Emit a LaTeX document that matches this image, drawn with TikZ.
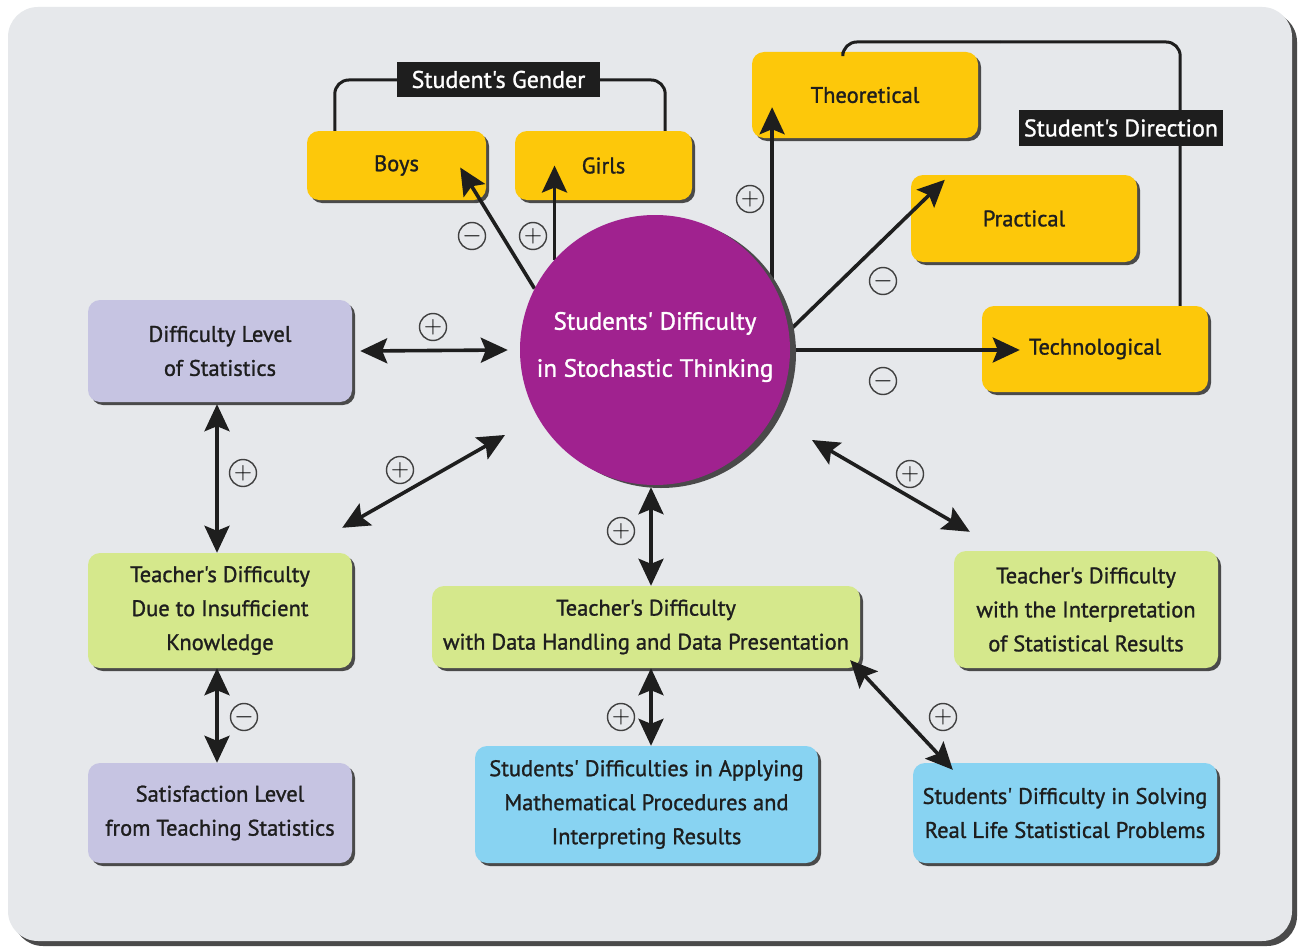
\documentclass[tikz,border=0pt]{standalone}
\usepackage{fontspec}
\setmainfont{PT Sans}[Ligatures=TeXOff, FakeBold=1.2]
\usetikzlibrary{shadows,arrows.meta,calc}
\definecolor{bgc}{HTML}{E6E8EB}
\definecolor{shc}{HTML}{4A4A4A}
\definecolor{ink}{HTML}{1E1E1E}
\definecolor{yel}{HTML}{FDC80A}
\definecolor{lav}{HTML}{C6C4E2}
\definecolor{lime}{HTML}{D5E88C}
\definecolor{sky}{HTML}{88D3F2}
\definecolor{purp}{HTML}{A0228F}
\tikzset{
  box/.style={rounded corners=12pt, inner sep=0pt, align=center, text=ink,
    font=\fontsize{22.5}{34}\selectfont,
    drop shadow={shadow xshift=3pt, shadow yshift=-3pt, fill=shc, opacity=1}},
  tag/.style={fill=ink, text=white, inner sep=0pt, font=\fontsize{24}{26}\selectfont},
  sign/.style={circle, draw=ink!85, line width=1.4pt, fill=bgc, minimum size=27pt, inner sep=0pt,
    font=\fontsize{24}{24}\selectfont},
  tip/.tip={Stealth[length=27pt,width=25pt,inset=5pt]},
  arr/.style={draw=ink, line width=3.6pt, -tip},
  darr/.style={draw=ink, line width=3.6pt, tip-tip},
  brk/.style={draw=ink, line width=3pt, rounded corners=14pt}
}
\begin{document}
\begin{tikzpicture}[x=1pt,y=-1pt]
\useasboundingbox (0,0) rectangle (1299,950);
\fill[white] (0,0) rectangle (1299,950);
\fill[shc, rounded corners=30pt] (13,12) rectangle (1297,946);
\fill[bgc, rounded corners=30pt] (8,7) rectangle (1292,941);

% nodes
\node[box, fill=yel, minimum width=179pt, minimum height=69pt] (boys) at (396.5,165.5) {Boys};
\node[box, fill=yel, minimum width=177pt, minimum height=69pt] (girls) at (603.5,165.5) {Girls};
\node[box, fill=yel, minimum width=226pt, minimum height=86pt] (theo) at (865,95) {Theoretical};
\node[box, fill=yel, minimum width=226pt, minimum height=87pt] (prac) at (1024,218.5) {Practical};
\node[box, fill=yel, minimum width=226pt, minimum height=86pt] (tech) at (1095,349) {Technological};
\node[box, fill=lav, minimum width=264pt, minimum height=102pt] (dls) at (220,351) {Difficulty Level\\of Statistics};
\node[box, fill=lime, minimum width=264pt, minimum height=115pt] (tdi) at (220,610.5) {Teacher's Difficulty\\Due to Insufficient\\Knowledge};
\node[box, fill=lav, minimum width=264pt, minimum height=100pt] (sat) at (220,813) {Satisfaction Level\\from Teaching Statistics};
\node[box, fill=lime, minimum width=428pt, minimum height=82pt] (tdh) at (646,627) {Teacher's Difficulty\\with Data Handling and Data Presentation};
\node[box, fill=lime, minimum width=264pt, minimum height=117pt] (tdr) at (1086,609.5) {Teacher's Difficulty\\with the Interpretation\\of Statistical Results};
\node[box, fill=sky, minimum width=343pt, minimum height=117pt] (app) at (646.5,804.5) {Students' Difficulties in Applying\\Mathematical Procedures and\\Interpreting Results};
\node[box, fill=sky, minimum width=304pt, minimum height=100pt] (sol) at (1065,813) {Students' Difficulty in Solving\\Real Life Statistical Problems};

% brackets
\draw[brk] ([xshift=28pt]boys.north west) |- (498,80);
\draw[brk] (498,80) -| ([xshift=-27pt]girls.north east);
\draw[brk] ([xshift=91pt]theo.north west) |- (1000,42);
\draw[brk] (1000,42) -| ([xshift=-28pt]tech.north east);
\node[tag, minimum width=203pt, minimum height=35pt] (gender) at (498.5,79.5) {Student's Gender};
\node[tag, minimum width=204pt, minimum height=36pt] (dir) at (1121,128) {Student's Direction};

% circle (defined first for anchors, drawn later)
\path (655,350) coordinate (cc);
\node[circle, minimum size=270pt, inner sep=0pt] (c) at (cc) {};

% arrows from the central node
\draw[arr] (c.153) -- ([shift={(-26,2)}]boys.east);
\draw[arr] (c.138) -- (c.138 |- girls.center);
\draw[arr] (c.30) -- ([yshift=31pt]c.30 |- theo.south);
\draw[arr] (c.8) -- ([shift={(34,5)}]prac.north west);
\draw[arr] (c.east) -- ([xshift=38pt]c.east -| tech.west);
\draw[darr] ([xshift=8pt]dls.east) -- ([xshift=-12pt]c.west);
\draw[darr] ([shift={(-10,-25)}]tdi.north east) -- ($(cc)+(-150,85)$);
\draw[darr] ([xshift=-4pt,yshift=-2pt]c.south) -- ([xshift=5pt]tdh.north);
\draw[darr] ($(cc)+(157,90)$) -- ([shift={(16,-19)}]tdr.north west);
\draw[darr] ([shift={(-3,2)}]dls.south) -- ([xshift=-3pt]tdi.north);
\draw[darr] ([xshift=-3pt]tdi.south) -- ([xshift=-3pt]sat.north);
\draw[darr] ([xshift=5pt]tdh.south) -- ([xshift=4.5pt]app.north);
\draw[darr] ([shift={(-10,-8)}]tdh.south east) -- ([shift={(40,7)}]sol.north west);

% central circle drawn on top
\node[circle, minimum size=270pt, inner sep=0pt, fill=purp,
  drop shadow={shadow xshift=6pt, shadow yshift=-3pt, fill=shc, opacity=1}] (ctext) at (cc) {};
\node[text=white, align=center, font=\fontsize{25}{47}\selectfont] (clabel) at ([yshift=3pt]cc)
  {Students' Difficulty\\in Stochastic Thinking};

% signs
\node[sign] (s1) at (472,236) {$-$};
\node[sign] (s2) at (533,236) {$+$};
\node[sign] (s3) at (750,199) {$+$};
\node[sign] (s4) at (883,281) {$-$};
\node[sign] (s5) at (883,381) {$-$};
\node[sign] (s6) at (433,327) {$+$};
\node[sign] (s7) at (400,470) {$+$};
\node[sign] (s8) at (243,473) {$+$};
\node[sign] (s9) at (244,717) {$-$};
\node[sign] (s10) at (621,531) {$+$};
\node[sign] (s11) at (910,474) {$+$};
\node[sign] (s12) at (621,717) {$+$};
\node[sign] (s13) at (943,717) {$+$};
\end{tikzpicture}
\end{document}
